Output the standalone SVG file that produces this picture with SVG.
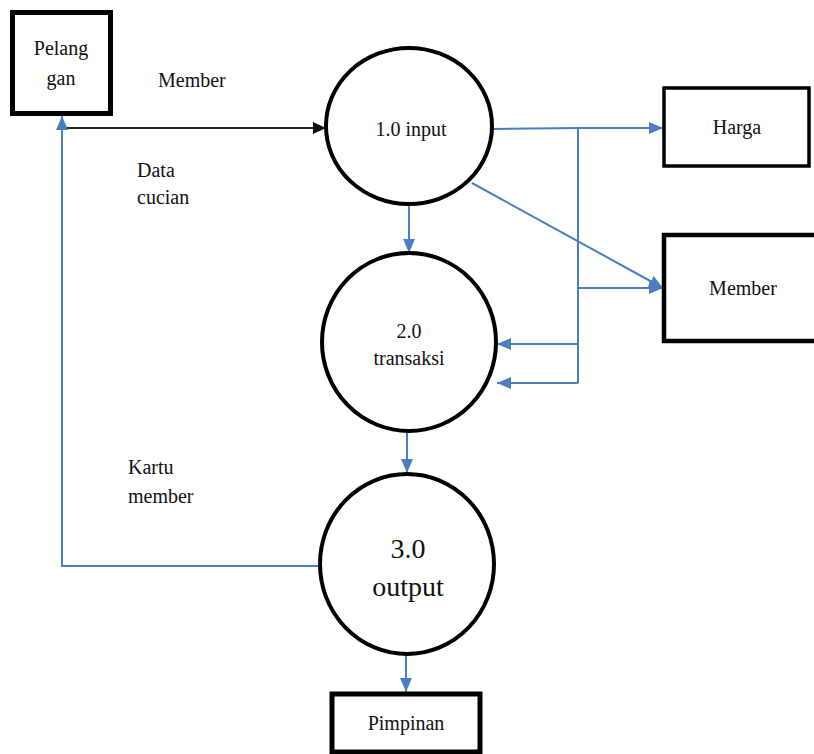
<svg xmlns="http://www.w3.org/2000/svg" width="814" height="754" viewBox="0 0 814 754">
<style>
text{font-family:'Liberation Serif','DejaVu Serif',serif;font-size:20px;fill:#111}
.c{text-anchor:middle}
.big{font-size:28px}
.proc{fill:#fff;stroke:#000;stroke-width:4}
.ent{fill:#fff;stroke:#000}
.flow{fill:none;stroke:#4a7ebf;stroke-width:2}
.dark{fill:none;stroke:#222;stroke-width:2.2}
</style>
<defs>
<marker id="ab" markerWidth="14" markerHeight="12" refX="14" refY="6" orient="auto" markerUnits="userSpaceOnUse">
<path d="M0,0 L14,6 L0,12 Z" fill="#4a7ebf"/>
</marker>
<marker id="ak" markerWidth="13" markerHeight="12" refX="13" refY="6" orient="auto" markerUnits="userSpaceOnUse">
<path d="M0,0 L13,6 L0,12 Z" fill="#111"/>
</marker>
</defs>
<g id="connectors">
<path class="dark" d="M64,128 L326,128" marker-end="url(#ak)"/>
<path class="flow" d="M320,566 L62,566 L62,116" marker-end="url(#ab)"/>
<path class="flow" d="M493,129 L578,128 L663,128" marker-end="url(#ab)"/>
<path class="flow" d="M578,128 L578,383"/>
<path class="flow" d="M578,288 L663,288" marker-end="url(#ab)"/>
<path class="flow" d="M578,344 L497,344" marker-end="url(#ab)"/>
<path class="flow" d="M578,383 L497,383" marker-end="url(#ab)"/>
<path class="flow" d="M472,183 L663,288" marker-end="url(#ab)"/>
<path class="flow" d="M409,205 L409,253" marker-end="url(#ab)"/>
<path class="flow" d="M407,433 L407,473" marker-end="url(#ab)"/>
<path class="flow" d="M406,656 L406,692" marker-end="url(#ab)"/>
</g>
<g id="pelanggan">
<rect class="ent" x="12.5" y="12.5" width="98" height="101" stroke-width="5"/>
<text class="c" x="61" y="55">Pelang</text>
<text class="c" x="61" y="85">gan</text>
</g>
<g id="labels">
<text x="158" y="87">Member</text>
<text x="137" y="177">Data</text>
<text x="137" y="204">cucian</text>
<text x="128" y="474">Kartu</text>
<text x="128" y="503">member</text>
</g>
<g id="p1">
<ellipse class="proc" cx="409" cy="126" rx="83" ry="78"/>
<text class="c" x="411" y="136">1.0 input</text>
</g>
<g id="p2">
<ellipse class="proc" cx="409" cy="342" rx="87" ry="89"/>
<text class="c" x="409" y="338">2.0</text>
<text class="c" x="409" y="365">transaksi</text>
</g>
<g id="p3">
<ellipse class="proc" cx="407" cy="564" rx="87" ry="90"/>
<text class="c big" x="408" y="558">3.0</text>
<text class="c big" x="408" y="596">output</text>
</g>
<g id="harga">
<rect class="ent" x="664" y="88" width="145" height="78" stroke-width="3.5"/>
<text class="c" x="737" y="134">Harga</text>
</g>
<g id="member">
<rect class="ent" x="664" y="235" width="160" height="106" stroke-width="4.5"/>
<text class="c" x="743" y="295">Member</text>
</g>
<g id="pimpinan">
<rect class="ent" x="332" y="694" width="148" height="58" stroke-width="5"/>
<text class="c" x="406" y="730">Pimpinan</text>
</g>
</svg>
